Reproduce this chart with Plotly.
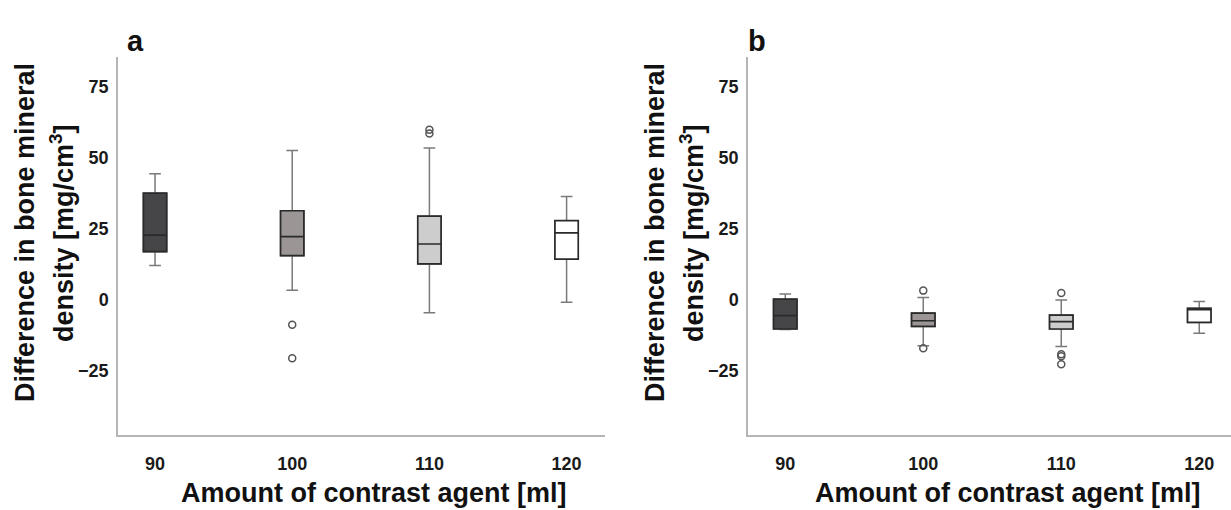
import plotly.graph_objects as go

cats = ["90", "100", "110", "120"]
fills = ["#464648", "#9b9595", "#cdcdcd", "#ffffff"]

# Panel a
a_lower = [12.1, 3.4, -4.5, -0.8]
a_q1 = [17.0, 15.6, 12.7, 14.4]
a_med = [22.8, 22.3, 19.7, 23.6]
a_q3 = [37.6, 31.4, 29.5, 27.9]
a_upper = [44.4, 52.6, 53.5, 36.4]
a_out_x = ["100", "100", "110", "110"]
a_out_y = [-8.7, -20.5, 59.9, 58.6]

# Panel b
b_lower = [-10.4, -16.1, -16.4, -11.7]
b_q1 = [-10.2, -9.3, -10.2, -7.9]
b_med = [-5.5, -7.3, -7.6, -3.4]
b_q3 = [0.3, -4.6, -5.3, -2.9]
b_upper = [2.1, 0.9, 0.0, -0.5]
b_out_x = ["100", "100", "110", "110", "110", "110"]
b_out_y = [3.3, -17.0, 2.5, -19.1, -19.8, -22.6]

FONT = "Liberation Sans, Arial, sans-serif"
W, H = 1231, 510

fig = go.Figure()

def add_panel(xa, ya, lower, q1, med, q3, upper, ox, oy):
    for i, c in enumerate(cats):
        # whiskers (grey)
        fig.add_trace(go.Box(
            x=[c], q1=[q1[i]], median=[med[i]], q3=[q3[i]],
            lowerfence=[lower[i]], upperfence=[upper[i]],
            fillcolor=fills[i], line=dict(color="#7a7a7a", width=1.5),
            width=0.17, whiskerwidth=0.5, boxpoints=False,
            xaxis=xa, yaxis=ya, showlegend=False, hoverinfo="skip"))
        # box + median (dark)
        fig.add_trace(go.Box(
            x=[c], q1=[q1[i]], median=[med[i]], q3=[q3[i]],
            lowerfence=[q1[i]], upperfence=[q3[i]],
            fillcolor=fills[i], line=dict(color="#2a2a2a", width=1.7),
            width=0.17, whiskerwidth=0, boxpoints=False,
            xaxis=xa, yaxis=ya, showlegend=False))
    fig.add_trace(go.Scatter(
        x=ox, y=oy, mode="markers",
        marker=dict(symbol="circle-open", size=7, color="#555555",
                    line=dict(width=1.5, color="#555555")),
        xaxis=xa, yaxis=ya, showlegend=False))

add_panel("x", "y", a_lower, a_q1, a_med, a_q3, a_upper, a_out_x, a_out_y)
add_panel("x2", "y2", b_lower, b_q1, b_med, b_q3, b_upper, b_out_x, b_out_y)

ydom = [1 - 435 / H, 1 - 57 / H]
tickfont = dict(family=FONT, size=18, color="#1a1a1a", weight="bold")

xcommon = dict(type="category", categoryorder="array", categoryarray=cats,
               showline=True, linecolor="#b5b5b5", linewidth=1.5,
               showgrid=False, zeroline=False, ticks="", tickfont=tickfont,
               ticklabelstandoff=12)
ycommon = dict(range=[-47.5, 85.5], tickvals=[-25, 0, 25, 50, 75],
               showline=True, linecolor="#b5b5b5", linewidth=1.5,
               showgrid=False, zeroline=False, ticks="", tickfont=tickfont,
               ticklabelstandoff=4)

fig.update_layout(
    width=W, height=H,
    margin=dict(l=0, r=0, t=0, b=0),
    paper_bgcolor="white", plot_bgcolor="white",
    xaxis=dict(domain=[118 / W, 605 / W], range=[-0.27, 3.28], anchor="y", **xcommon),
    yaxis=dict(domain=ydom, anchor="x", **ycommon),
    xaxis2=dict(domain=[748 / W, 1.0], range=[-0.27, 3.23], anchor="y2", **xcommon),
    yaxis2=dict(domain=ydom, anchor="x2", **ycommon),
)

titlefont = dict(family=FONT, size=27, color="#111111", weight="bold")
ann = []
for ax0, xc in [(118, 374), (748, 1008)]:
    ann.append(dict(text="Difference in bone mineral", x=(ax0 - 93) / W, y=1 - 233 / H,
                    xref="paper", yref="paper", textangle=-90, showarrow=False,
                    xanchor="center", yanchor="middle", font=titlefont))
    ann.append(dict(text="density [mg/cm<sup>3</sup>]", x=(ax0 - 56) / W, y=1 - 233 / H,
                    xref="paper", yref="paper", textangle=-90, showarrow=False,
                    xanchor="center", yanchor="middle", font=titlefont))
    ann.append(dict(text="Amount of contrast agent [ml]", x=xc / W, y=1 - 493 / H,
                    xref="paper", yref="paper", showarrow=False,
                    xanchor="center", yanchor="middle", font=titlefont))
ann.append(dict(text="a", x=135 / W, y=1 - 41 / H, xref="paper", yref="paper",
                showarrow=False, xanchor="center", yanchor="middle",
                font=dict(family=FONT, size=29, color="#111111", weight="bold")))
ann.append(dict(text="b", x=757 / W, y=1 - 41 / H, xref="paper", yref="paper",
                showarrow=False, xanchor="center", yanchor="middle",
                font=dict(family=FONT, size=29, color="#111111", weight="bold")))
fig.update_layout(annotations=ann)

fig.write_html("out.html")
